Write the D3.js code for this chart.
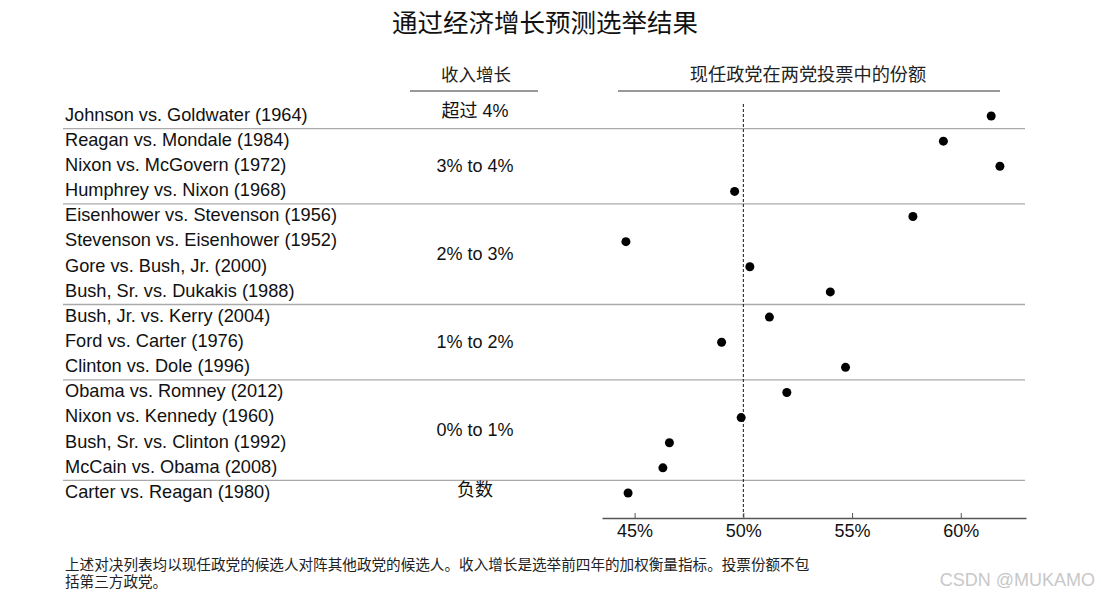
<!DOCTYPE html>
<html>
<head>
<meta charset="utf-8">
<script src="https://cdn.jsdelivr.net/npm/d3@7"></script>
<style>
  body { margin: 0; background: #fff; }
  svg { display: block; }
  text { font-family: "Liberation Sans", Arial, "Noto Sans CJK SC", sans-serif; }
  .cjk { font-family: "Liberation Sans", "Noto Sans CJK SC", sans-serif; }
</style>
</head>
<body>
<svg id="chart" width="1101" height="601"></svg>
<script>
// ---- data ----
const matchups = [
  "Johnson vs. Goldwater (1964)",
  "Reagan vs. Mondale (1984)",
  "Nixon vs. McGovern (1972)",
  "Humphrey vs. Nixon (1968)",
  "Eisenhower vs. Stevenson (1956)",
  "Stevenson vs. Eisenhower (1952)",
  "Gore vs. Bush, Jr. (2000)",
  "Bush, Sr. vs. Dukakis (1988)",
  "Bush, Jr. vs. Kerry (2004)",
  "Ford vs. Carter (1976)",
  "Clinton vs. Dole (1996)",
  "Obama vs. Romney (2012)",
  "Nixon vs. Kennedy (1960)",
  "Bush, Sr. vs. Clinton (1992)",
  "McCain vs. Obama (2008)",
  "Carter vs. Reagan (1980)"
];
const growthGroup = [
  "超过 4%",
  "3% to 4%", "3% to 4%", "3% to 4%",
  "2% to 3%", "2% to 3%", "2% to 3%", "2% to 3%",
  "1% to 2%", "1% to 2%", "1% to 2%",
  "0% to 1%", "0% to 1%", "0% to 1%", "0% to 1%",
  "负数"
];
const voteShare = [61.4, 59.2, 61.8, 49.6, 57.8, 44.6, 50.3, 54.0, 51.2, 49.0, 54.7, 52.0, 49.9, 46.6, 46.3, 44.7];
const xTicks = [45, 50, 55, 60];
const titleText = "通过经济增长预测选举结果";
const headerGrowth = "收入增长";
const headerShare = "现任政党在两党投票中的份额";
const footnoteLines = [
  "上述对决列表均以现任政党的候选人对阵其他政党的候选人。收入增长是选举前四年的加权衡量指标。投票份额不包",
  "括第三方政党。"
];

// ---- layout ----
const svg = d3.select("#chart");
const x = d3.scaleLinear().domain([43.5, 63]).range([602, 1026]);
const y = d3.scalePoint().domain(matchups).range([116, 493]);
const step = y.step();
const labelX = 65, groupX = 475, lineLeft = 63, lineRight = 1025, axisY = 518;

// title
svg.append("text").attr("class", "cjk")
  .attr("x", 545).attr("y", 25).attr("text-anchor", "middle")
  .attr("dominant-baseline", "middle")
  .style("font-size", "25.5px").style("fill", "#111").text(titleText);

// headers
svg.append("text").attr("class", "cjk").attr("x", 476).attr("y", 76)
  .attr("text-anchor", "middle").attr("dominant-baseline", "middle")
  .style("font-size", "17.5px").style("fill", "#222").text(headerGrowth);
svg.append("line").attr("x1", 410).attr("x2", 538).attr("y1", 91).attr("y2", 91)
  .attr("stroke", "#777").attr("stroke-width", 1.6);
svg.append("text").attr("class", "cjk").attr("x", 808).attr("y", 76)
  .attr("text-anchor", "middle").attr("dominant-baseline", "middle")
  .style("font-size", "18.2px").style("fill", "#222").text(headerShare);
svg.append("line").attr("x1", 618).attr("x2", 1000).attr("y1", 91).attr("y2", 91)
  .attr("stroke", "#777").attr("stroke-width", 1.6);

// group separators and group labels
const groups = [];
growthGroup.forEach((g, i) => {
  const last = groups[groups.length - 1];
  if (last && last.name === g) last.rows.push(i);
  else groups.push({ name: g, rows: [i] });
});
groups.forEach((g, gi) => {
  const ys = g.rows.map(i => y(matchups[i]));
  const cy = d3.mean(ys);
  svg.append("text").attr("class", "cjk")
    .attr("x", groupX).attr("y", cy + (g.rows.length === 1 ? (gi === 0 ? -4 : -2) : 1))
    .attr("text-anchor", "middle").attr("dominant-baseline", "middle")
    .style("font-size", "18px").style("fill", "#111").text(g.name);
  if (gi < groups.length - 1) {
    const sy = d3.max(ys) + step / 2;
    svg.append("line").attr("x1", lineLeft).attr("x2", lineRight)
      .attr("y1", sy).attr("y2", sy)
      .attr("stroke", "#aaa").attr("stroke-width", 1.3);
  }
});

// row labels
svg.append("g").selectAll("text").data(matchups).join("text")
  .attr("x", labelX).attr("y", d => y(d))
  .attr("dominant-baseline", "middle")
  .style("font-size", "18.2px").style("fill", "#111").text(d => d);

// dashed 50% line
svg.append("line").attr("x1", x(50)).attr("x2", x(50)).attr("y1", 104).attr("y2", axisY)
  .attr("stroke", "#111").attr("stroke-width", 1).attr("stroke-dasharray", "3,2");

// axis
const axis = d3.axisBottom(x).tickValues(xTicks).tickFormat(d => d + "%")
  .tickSize(-5).tickSizeOuter(0).tickPadding(6);
const ax = svg.append("g").attr("transform", `translate(0,${axisY})`).call(axis);
ax.select(".domain").attr("stroke", "#555").attr("stroke-width", 1.5);
ax.selectAll(".tick line").attr("stroke", "#555");
ax.selectAll(".tick text").style("font-size", "18px").style("fill", "#111")
  .style("font-family", "'Liberation Sans', Arial, sans-serif");

// dots
svg.append("g").selectAll("circle").data(voteShare).join("circle")
  .attr("cx", d => x(d)).attr("cy", (d, i) => y(matchups[i]))
  .attr("r", 4.5).attr("fill", "#000");

// footnote
footnoteLines.forEach((t, i) => {
  svg.append("text").attr("class", "cjk").attr("x", 65).attr("y", 566 + i * 17)
    .attr("dominant-baseline", "middle")
    .style("font-size", "14.6px").style("fill", "#222").text(t);
});

// watermark
svg.append("text").attr("x", 1095).attr("y", 581).attr("text-anchor", "end")
  .attr("dominant-baseline", "middle")
  .style("font-size", "18px").style("fill", "#c8c8c8").text("CSDN @MUKAMO");
</script>
</body>
</html>
